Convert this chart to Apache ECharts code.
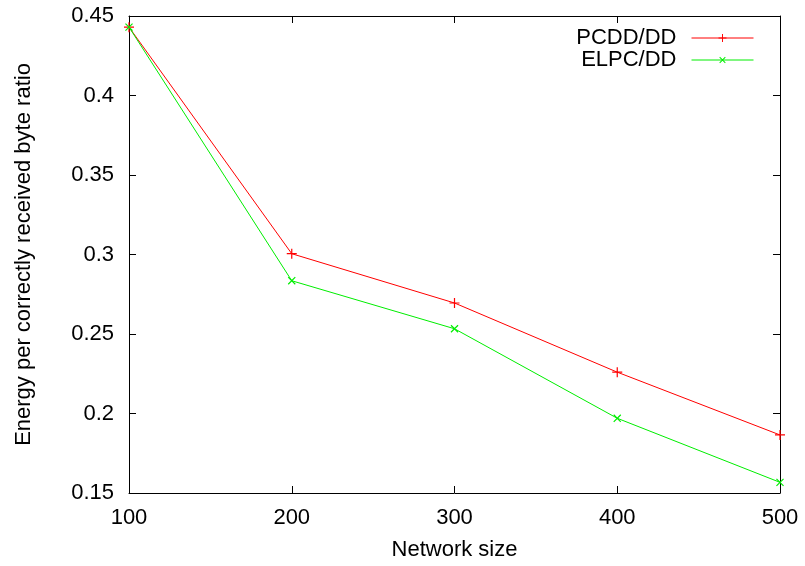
<!DOCTYPE html>
<html><head><meta charset="utf-8">
<script src="https://cdn.jsdelivr.net/npm/echarts@6/dist/echarts.min.js"></script>
<style>html,body{margin:0;padding:0;background:#fff}#c{width:805px;height:566px}</style>
</head><body><div id="c"></div>
<script>
const networkSizes = [100, 200, 300, 400, 500];
const pcddValues = [0.443, 0.3005, 0.2695, 0.226, 0.1865];
const elpcValues = [0.443, 0.2835, 0.2533, 0.197, 0.1567];
const seriesNames = ['PCDD/DD', 'ELPC/DD'];
const xTitle = 'Network size';
const yTitle = 'Energy per correctly received byte ratio';

const plus = 'path://M-0.12,-1 L0.12,-1 L0.12,1 L-0.12,1 Z M-1,-0.12 L1,-0.12 L1,0.12 L-1,0.12 Z';
const font = 'Liberation Sans';
const fs = 22;
const chart = echarts.init(document.getElementById('c'), null, {renderer: 'canvas'});
const axisCommon = {
  axisLine: {show: true, onZero: false, lineStyle: {color: '#000', width: 1}},
  axisTick: {show: true, inside: true, length: 7, lineStyle: {color: '#000', width: 1}},
  splitLine: {show: false}
};
chart.setOption({
  animation: false,
  backgroundColor: '#fff',
  textStyle: {fontFamily: font},
  grid: {left: 129, right: 25, top: 16, bottom: 71.5, containLabel: false},
  legend: {
    right: 46, top: 22, orient: 'vertical', align: 'right',
    itemWidth: 62, itemHeight: 10, itemGap: 0,
    lineStyle: {width: 1},
    textStyle: {fontFamily: font, fontSize: fs, color: '#000', padding: [0, 10, 0, 0]},
    data: seriesNames
  },
  xAxis: [
    Object.assign({type: 'value', position: 'bottom', min: 100, max: 500, interval: 100,
      name: xTitle, nameLocation: 'middle', nameGap: 46,
      nameTextStyle: {fontFamily: font, fontSize: fs, color: '#000'},
      axisLabel: {fontFamily: font, fontSize: fs, color: '#000', margin: 14}}, axisCommon),
    Object.assign({type: 'value', position: 'top', min: 100, max: 500, interval: 100,
      axisLabel: {show: false}}, axisCommon)
  ],
  yAxis: [
    Object.assign({type: 'value', position: 'left', min: 0.15, max: 0.45, interval: 0.05,
      name: yTitle, nameLocation: 'middle', nameGap: 94, nameRotate: 90,
      nameTextStyle: {fontFamily: font, fontSize: fs, color: '#000'},
      axisLabel: {fontFamily: font, fontSize: fs, color: '#000', margin: 15,
        formatter: v => String(Math.round(v * 100) / 100)}}, axisCommon),
    Object.assign({type: 'value', position: 'right', min: 0.15, max: 0.45, interval: 0.05,
      axisLabel: {show: false}}, axisCommon)
  ],
  series: [
    {name: seriesNames[0], type: 'line', data: networkSizes.map((x, i) => [x, pcddValues[i]]),
      symbol: plus, symbolSize: 10, showSymbol: true,
      lineStyle: {color: '#ff0000', width: 1}, itemStyle: {color: '#ff0000'}},
    {name: seriesNames[1], type: 'line', data: networkSizes.map((x, i) => [x, elpcValues[i]]),
      symbol: plus, symbolSize: 10, symbolRotate: 45, showSymbol: true,
      lineStyle: {color: '#00ee00', width: 1}, itemStyle: {color: '#00ee00'}}
  ]
});
</script></body></html>
